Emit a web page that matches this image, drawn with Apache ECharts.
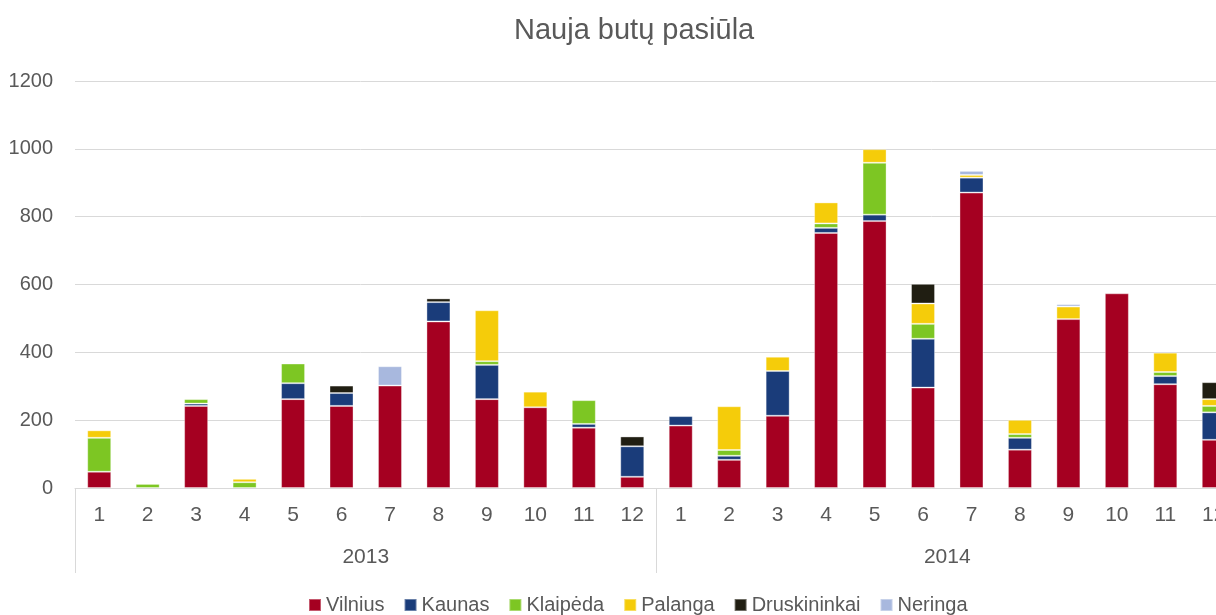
<!DOCTYPE html>
<html><head><meta charset="utf-8">
<script src="https://cdn.jsdelivr.net/npm/echarts@6/dist/echarts.min.js"></script>
<style>html,body{margin:0;padding:0;background:#fff}#c{width:1216px;height:615px}</style>
</head><body><div id="c"></div>
<script>
const months = ['1','2','3','4','5','6','7','8','9','10','11','12','1','2','3','4','5','6','7','8','9','10','11','12'];
const years = ['2013','2014'];
const yTicks = [0,200,400,600,800,1000,1200];
const seriesNames = ['Vilnius','Kaunas','Klaipėda','Palanga','Druskininkai','Neringa'];
const vilnius = [48,0,242,0,262,242,302,491,262,238,178,33, 184,83,213,752,787,296,871,113,498,574,306,142];
const kaunas = [0,0,7,0,47,38,0,57,101,0,11,90, 28,12,132,15,19,144,44,35,0,0,24,81];
const klaipeda = [100,12,13,17,58,0,0,0,11,0,70,0, 0,17,0,13,153,44,0,11,0,0,12,19];
const palanga = [22,0,0,10,0,0,0,0,150,46,0,0, 0,129,42,62,40,60,8,42,37,0,57,20];
const druskininkai = [0,0,0,0,0,22,0,11,0,0,0,29, 0,0,0,0,0,58,0,0,0,0,0,50];
const neringa = [0,0,0,0,0,0,57,0,0,0,0,0, 0,0,0,0,0,0,12,0,7,0,0,0];
const colors = ['#A50021','#1A3C7A','#7DC623','#F5CC0A','#201E12','#A8B8DE'];

const FONT = '"Liberation Sans",Arial,sans-serif';
const allData = [vilnius,kaunas,klaipeda,palanga,druskininkai,neringa];
const chart = echarts.init(document.getElementById('c'));
chart.setOption({
  animation:false,
  color: colors,
  title:{text:'Nauja butų pasiūla',left:509,top:11,textStyle:{fontFamily:FONT,fontSize:29,fontWeight:'normal',color:'#595959'}},
  legend:{bottom:-5,left:303,icon:'rect',itemWidth:12,itemHeight:12,itemGap:19,
    textStyle:{fontFamily:FONT,fontSize:20,color:'#595959'},data:seriesNames},
  grid:{left:75,right:-22,top:81,bottom:127,containLabel:false,outerBoundsMode:'none'},
  xAxis:[
    {type:'category',data:months,position:'bottom',
     axisLine:{lineStyle:{color:'#D9D9D9',width:1}},axisTick:{show:false},
     axisLabel:{interval:0,margin:17,fontFamily:FONT,fontSize:21,color:'#595959',hideOverlap:false}},
    {type:'category',data:years,position:'bottom',
     axisLine:{show:false},axisTick:{show:true,length:85,lineStyle:{color:'#D9D9D9'}},
     axisLabel:{interval:0,margin:59,fontFamily:FONT,fontSize:21,color:'#595959'}}
  ],
  yAxis:{type:'value',min:yTicks[0],max:yTicks[yTicks.length-1],interval:200,
    axisLine:{show:false},axisTick:{show:false},
    splitLine:{lineStyle:{color:'#D9D9D9',width:1}},
    axisLabel:{margin:22,fontFamily:FONT,fontSize:20,color:'#595959',formatter:v=>String(v)}},
  series: seriesNames.map((n,i)=>({
    name:n,type:'bar',stack:'total',barWidth:24,xAxisIndex:0,
    itemStyle:{color:colors[i],borderColor:'rgba(255,255,255,0.35)',borderWidth:1},
    data: allData[i].map(v=> v===0 ? null : v)
  }))
});
</script></body></html>
